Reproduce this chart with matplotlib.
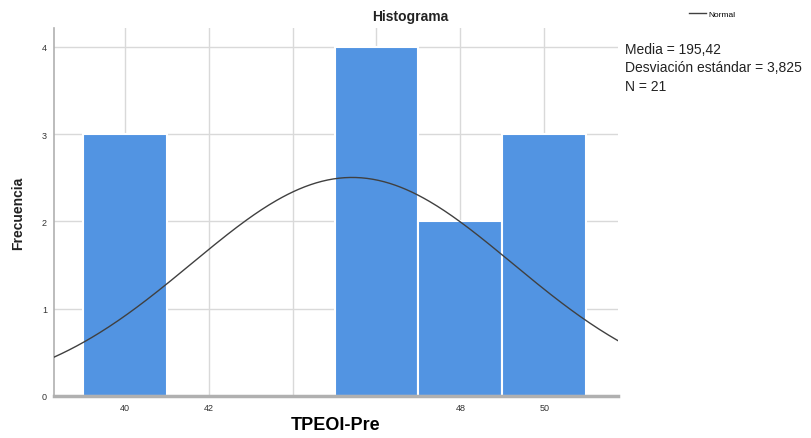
import numpy as np
import matplotlib.pyplot as plt

# histogram bins (centre, count), bin width 2
bin_centers = [40, 46, 48, 50]
counts = [3, 4, 2, 3]
bin_width = 2
# normal curve parameters
mean = 45.42
sd = 3.825
n_obs = sum(counts)

x_ticks = [40, 42, 44, 46, 48, 50]
x_labels = ['40', '42', '', '', '48', '50']
y_ticks = [0, 1, 2, 3, 4]

stats_lines = ['Media = 195,42', 'Desviación estándar = 3,825', 'N = 21']

plt.rcParams['font.family'] = ['Liberation Sans', 'DejaVu Sans']

fig = plt.figure(figsize=(8.11, 4.39), dpi=100)
ax = fig.add_axes([54 / 811, 42 / 439, 564 / 811, 368 / 439])

ax.bar(bin_centers, counts, width=bin_width, color='#5294e2',
       edgecolor='white', linewidth=1.5, zorder=2)

xs = np.linspace(38.31, 51.76, 300)
ys = n_obs * bin_width / (sd * np.sqrt(2 * np.pi)) * np.exp(-(xs - mean) ** 2 / (2 * sd ** 2))
line, = ax.plot(xs, ys, color='#404040', linewidth=1.0, zorder=3)

ax.set_xlim(38.31, 51.76)
ax.set_ylim(0, 4.215)
ax.set_xticks(x_ticks)
ax.set_xticklabels(x_labels)
ax.set_yticks(y_ticks)
ax.grid(True, color='#d9d9d9', linewidth=1.0, zorder=0)
ax.set_axisbelow(True)
ax.tick_params(axis='both', length=0, labelsize=6.5, colors='#333333', pad=5)

for s in ['top', 'right']:
    ax.spines[s].set_visible(False)
ax.spines['left'].set_color('#b0b0b0')
ax.spines['left'].set_linewidth(1.2)
ax.spines['bottom'].set_color('#b0b0b0')
ax.spines['bottom'].set_linewidth(2.5)

ax.set_xlabel('TPEOI-Pre', fontsize=13, fontweight='bold', labelpad=3)
ax.set_ylabel('Frecuencia', fontsize=10, fontweight='bold', labelpad=12, color='#222222')
fig.text(410 / 811, 1 - 17 / 439, 'Histograma', ha='center', va='center',
         fontsize=10, fontweight='bold', color='#222222')

fig.text(625 / 811, 1 - 43 / 439, '\n'.join(stats_lines), ha='left', va='top',
         fontsize=10, color='#222222', linespacing=1.4)

fig.legend([line], ['Normal'], loc='center', bbox_to_anchor=(712 / 811, 1 - 15 / 439),
           frameon=False, fontsize=6, handlelength=2, handletextpad=0.3)

fig.savefig('out.png', dpi=100)
